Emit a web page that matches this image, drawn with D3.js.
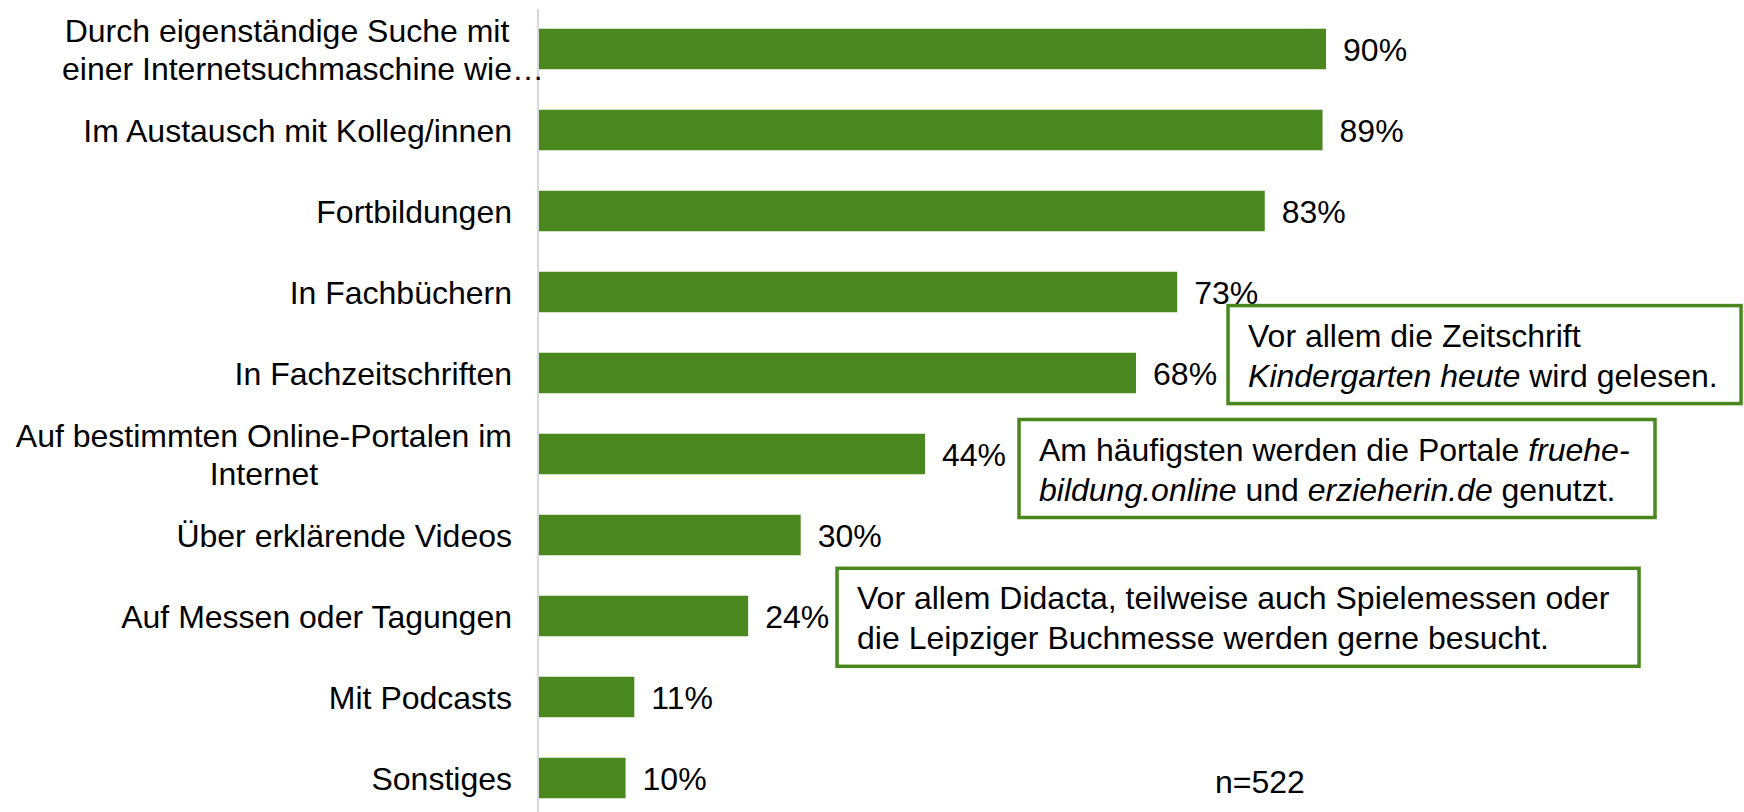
<!DOCTYPE html>
<html>
<head>
<meta charset="utf-8">
<script src="https://cdn.jsdelivr.net/npm/d3@7"></script>
<style>
  body { margin: 0; background: #fff; }
  svg { display: block; font-family: "Liberation Sans", Arial, sans-serif; }
  text { white-space: pre; }
</style>
</head>
<body>
<svg id="chart"></svg>
<script>
// data (bar lengths as drawn, labels as printed)
var categories = [
  ["Durch eigenständige Suche mit", "einer Internetsuchmaschine wie…"],
  ["Im Austausch mit Kolleg/innen"],
  ["Fortbildungen"],
  ["In Fachbüchern"],
  ["In Fachzeitschriften"],
  ["Auf bestimmten Online-Portalen im", "Internet"],
  ["Über erklärende Videos"],
  ["Auf Messen oder Tagungen"],
  ["Mit Podcasts"],
  ["Sonstiges"]
];
var values = [90, 89.6, 83, 73, 68.3, 44.2, 30, 24, 11, 10];
var valueLabels = ["90%", "89%", "83%", "73%", "68%", "44%", "30%", "24%", "11%", "10%"];
var sampleNote = "n=522";

// callout texts: each line is a list of [text, italic]
var noteCategory = [4, 5, 7];
var noteLines = [
  [[["Vor allem die Zeitschrift", false]],
   [["Kindergarten heute", true], [" wird gelesen.", false]]],
  [[["Am häufigsten werden die Portale ", false], ["fruehe-", true]],
   [["bildung.online", true], [" und ", false], ["erzieherin.de", true], [" genutzt.", false]]],
  [[["Vor allem Didacta, teilweise auch Spielemessen oder", false]],
   [["die Leipziger Buchmesse werden gerne besucht.", false]]]
];

var svgWidth = 1744, svgHeight = 812;
var green = "#4a871f";
var fontSize = 32;

var svg = d3.select("#chart").attr("width", svgWidth).attr("height", svgHeight);

var idx = d3.range(values.length);
var x = d3.scaleLinear().domain([0, 100]).range([538, 1413.6]);
var y = d3.scaleBand().domain(idx).range([8.5, 818.5]).paddingInner(0.5).paddingOuter(0.25);
var mid = function(i) { return y(i) + y.bandwidth() / 2; };

// category axis line
svg.append("line")
  .attr("x1", x(0)).attr("x2", x(0))
  .attr("y1", 9).attr("y2", svgHeight)
  .attr("stroke", "#d9d9d9").attr("stroke-width", 2);

svg.append("g").selectAll("rect").data(idx).join("rect")
  .attr("x", x(0) + 1)
  .attr("y", function(i) { return y(i); })
  .attr("width", function(i) { return x(values[i]) - x(0) - 1; })
  .attr("height", y.bandwidth())
  .attr("fill", green);

svg.append("g").selectAll("text").data(idx).join("text")
  .attr("x", function(i) { return x(values[i]) + 17; })
  .attr("y", function(i) { return mid(i) + 11.5; })
  .attr("font-size", fontSize).attr("fill", "#000")
  .text(function(i) { return valueLabels[i]; });

// category labels; wrapped ones are centred on their widest line
var labelRight = 512, lineGap = 38;
var lab = svg.append("g").attr("font-size", fontSize).attr("fill", "#000");
categories.forEach(function(lines, i) {
  var n = lines.length;
  var t = lab.append("text");
  var spans = lines.map(function(s, k) {
    return t.append("tspan")
      .attr("y", mid(i) + (k - (n - 1) / 2) * lineGap + 11.5)
      .text(s.replace(/…$/, ""));
  });
  if (n === 1) {
    t.attr("text-anchor", "end");
    spans[0].attr("x", labelRight);
  } else {
    var w = d3.max(spans, function(s) { return s.node().getComputedTextLength(); });
    t.attr("text-anchor", "middle");
    spans.forEach(function(s, k) {
      s.text(lines[k]);
      var trimmed = lines[k].replace(/…$/, "");
      // keep the ellipsis hanging past the centred part
      if (trimmed !== lines[k]) {
        s.attr("text-anchor", "start").attr("x", labelRight - w);
      } else {
        s.attr("x", labelRight - w / 2);
      }
    });
  }
});

// callout boxes
var noteBox = [
  { dx: 92, top: -67.4, w: 513 },
  { dx: 94, top: -34.5, w: 636 },
  { dx: 88.9, top: -47.7, w: 802 }
];
noteLines.forEach(function(lines, j) {
  var c = noteCategory[j], b = noteBox[j];
  var bx = x(values[c]) + b.dx, by = mid(c) + b.top;
  var g = svg.append("g").attr("transform", "translate(" + bx + "," + by + ")");
  g.append("rect").attr("width", b.w).attr("height", 98)
    .attr("fill", "#fff").attr("stroke", green).attr("stroke-width", 3.5);
  lines.forEach(function(runs, k) {
    var t = g.append("text").attr("x", 20).attr("y", 41 + k * 40)
      .attr("font-size", fontSize).attr("fill", "#000");
    runs.forEach(function(r) {
      t.append("tspan").attr("font-style", r[1] ? "italic" : "normal").text(r[0]);
    });
  });
});

svg.append("text")
  .attr("x", 1215).attr("y", mid(values.length - 1) + 15)
  .attr("font-size", fontSize).attr("fill", "#000")
  .text(sampleNote);
</script>
</body>
</html>
